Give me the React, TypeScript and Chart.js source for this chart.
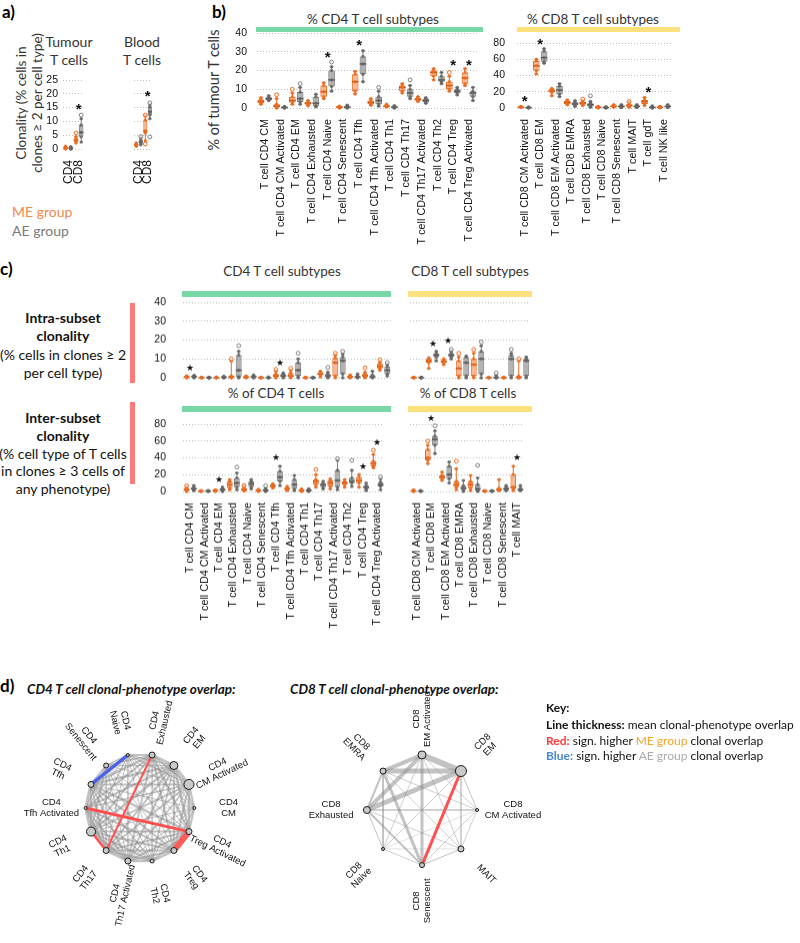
import React, { useEffect, useRef } from 'react';
import { Chart, registerables } from 'chart.js';

Chart.register(...registerables);

type Stat = [number, number, number, number, number]; // min, q1, median, q3, max

// ---------- Panel a ----------
const A_CATS = ['CD4', 'CD8'];
const A_TICKS = [0, 5, 10, 15, 20, 25];
const A_TUM_ME: Stat[] = [[0, 0.2, 0.4, 0.7, 1], [2.2, 2.8, 3.2, 3.8, 4.5]];
const A_TUM_AE: Stat[] = [[0, 0.1, 0.3, 0.5, 0.8], [2.5, 4.4, 6, 8.7, 11]];
const A_TUM_ME_OUT: number[][] = [[], [5.8]];
const A_TUM_AE_OUT: number[][] = [[], [12.3]];
const A_TUM_STARS: (number | null)[] = [null, 15.2];
const A_BLD_ME: Stat[] = [[1, 1.2, 1.5, 1.8, 2.2], [3, 5.8, 6.5, 10.5, 12]];
const A_BLD_AE: Stat[] = [[1.5, 2, 2.5, 3.2, 4], [11, 12.3, 13.5, 15.2, 16]];
const A_BLD_ME_OUT: number[][] = [[], [1.8, 12.3]];
const A_BLD_AE_OUT: number[][] = [[4.5], [4.4, 16.7]];
const A_BLD_STARS: (number | null)[] = [null, 20];

// ---------- Panel b ----------
const CD4_CATS = [
  'T cell CD4 CM', 'T cell CD4 CM Activated', 'T cell CD4 EM', 'T cell CD4 Exhausted',
  'T cell CD4 Naive', 'T cell CD4 Senescent', 'T cell CD4 Tfh', 'T cell CD4 Tfh Activated',
  'T cell CD4 Th1', 'T cell CD4 Th17', 'T cell CD4 Th17 Activated', 'T cell CD4 Th2',
  'T cell CD4 Treg', 'T cell CD4 Treg Activated',
];
const B8_CATS = [
  'T cell CD8 CM Activated', 'T cell CD8 EM', 'T cell CD8 EM Activated', 'T cell CD8 EMRA',
  'T cell CD8 Exhausted', 'T cell CD8 Naive', 'T cell CD8 Senescent', 'T cell MAIT',
  'T cell gdT', 'T cell NK like',
];
const C8_CATS = [
  'T cell CD8 CM Activated', 'T cell CD8 EM', 'T cell CD8 EM Activated', 'T cell CD8 EMRA',
  'T cell CD8 Exhausted', 'T cell CD8 Naive', 'T cell CD8 Senescent', 'T cell MAIT',
];
const B4_TICKS = [0, 10, 20, 30, 40];
const B8_TICKS = [0, 20, 40, 60, 80];

const B4_ME: Stat[] = [
  [2, 2.5, 3.5, 4.5, 5.5], [0, 0.3, 1, 2, 5], [2, 3, 4, 6, 8], [1.2, 1.8, 2.5, 3.4, 4],
  [5, 6, 8.7, 12, 13.5], [0, 0.2, 0.5, 0.8, 1], [7.5, 9, 14, 18, 19.5], [1.5, 2, 3, 4, 5],
  [0.5, 0.7, 1, 1.3, 2], [8, 9, 11, 12, 13], [3.5, 4, 4.5, 5.5, 6], [15, 17, 19, 20, 21],
  [9, 10, 12, 14, 17], [12, 13, 16, 19, 21],
];
const B4_AE: Stat[] = [
  [4, 4.3, 5, 5.7, 6.5], [0, 0.1, 0.3, 0.5, 0.8], [2, 3.2, 5, 8.5, 11], [0.7, 1, 2.5, 6, 7.4],
  [9, 11.5, 15, 20, 22], [0, 0.2, 0.5, 1, 1.5], [14, 18, 23.5, 27.5, 30.5], [1, 2, 4, 6, 9],
  [0, 0.2, 0.5, 0.8, 1.2], [5, 6, 8, 10, 12], [2.5, 3, 4, 5, 5.5], [13, 14, 15, 17, 19],
  [7, 8, 9, 10, 11], [4, 6, 8, 9, 11],
];
const B4_ME_OUT: number[][] = [[], [7], [10], [], [], [], [], [], [], [], [], [], [19], []];
const B4_AE_OUT: number[][] = [[], [], [13], [], [24.5], [], [], [11], [], [15], [], [], [], []];
const B4_STARS: (number | null)[] = [null, null, null, null, 28.3, null, 34.8, null, null, null, null, null, 24, 24];

const B8_ME: Stat[] = [
  [0.5, 0.8, 1, 1.5, 2], [42, 46, 52, 58, 60], [15, 19, 21, 23, 24], [4, 5, 7, 8.5, 10],
  [3, 4, 6, 7.5, 9], [0, 0.5, 1, 1.5, 2], [1, 1.5, 2, 3, 4], [1, 2, 3, 4.5, 7],
  [3, 5, 8, 10, 13], [0.3, 0.6, 1, 1.5, 2],
];
const B8_AE: Stat[] = [
  [0, 0.2, 0.5, 0.8, 1.2], [55, 57, 62, 70, 73], [14, 17, 22, 27, 30], [2, 3.5, 5, 7, 9],
  [1, 2, 4, 6, 8], [0, 0.2, 0.5, 1, 1.5], [0.5, 1, 2, 3, 4], [0.5, 1, 2, 3, 4],
  [0, 0.3, 0.8, 1.5, 2.5], [0.5, 1, 2, 2.8, 4],
];
const B8_ME_OUT: number[][] = [[], [], [], [], [11], [], [], [8], [], []];
const B8_AE_OUT: number[][] = [[], [], [], [], [15], [], [], [], [], []];
const B8_STARS: (number | null)[] = [11, 82, null, null, null, null, null, null, 22, null];

// ---------- Panel c : intra-subset ----------
const CI_TICKS = [0, 10, 20, 30, 40];
const C4I_ME: Stat[] = [
  [0, 0.2, 0.5, 0.8, 1], [0, 0, 0.1, 0.2, 0.3], [0, 0, 0.1, 0.2, 0.4], [0, 0.2, 0.5, 1, 9],
  [0, 0.2, 0.4, 0.7, 1], [0, 0, 0.1, 0.2, 0.3], [0, 0.5, 1, 2, 3.5], [0, 0.5, 1, 2.5, 4],
  [0, 0, 0.1, 0.2, 0.3], [0.5, 1.5, 2, 3, 3.5], [0, 1, 8, 10.5, 12], [0, 0.2, 0.5, 1, 1.5],
  [0, 0.5, 1, 2, 3], [4, 5, 6, 7.5, 8.5],
];
const C4I_AE: Stat[] = [
  [0, 0.3, 0.7, 1, 1.3], [0, 0, 0.1, 0.2, 0.3], [0, 0.1, 0.3, 0.5, 0.8], [0, 0.5, 4, 12, 14],
  [0, 0.2, 0.5, 1, 1.5], [0, 0, 0.1, 0.2, 0.4], [0, 0.5, 1, 2, 2.5], [0, 1, 4, 8, 10],
  [0, 0, 0.1, 0.2, 0.3], [0, 0.5, 1, 2, 3], [0, 2, 9, 11, 12.5], [0, 0.2, 0.5, 1, 2],
  [0, 0.2, 0.5, 1.5, 3.5], [1, 2, 4, 6, 7],
];
const C4I_ME_OUT: number[][] = [[], [], [], [10], [], [], [4.5], [5], [], [], [13], [], [5.3], [9.5]];
const C4I_AE_OUT: number[][] = [[], [], [], [17], [], [], [], [13], [], [5.5], [14], [], [], [8]];
const C4I_STARS: (number | null)[] = [5.3, null, null, null, null, null, 7.5, null, null, null, null, null, null, null];

const C8I_ME: Stat[] = [
  [0, 0, 0.1, 0.2, 0.3], [5, 8, 9, 10, 10.5], [7, 8, 8.5, 9.5, 10], [0, 1, 5, 9, 11],
  [0, 1, 7, 10, 13], [0, 0, 0.1, 0.2, 0.3], [0, 0, 0.1, 0.2, 0.3], [0, 0, 0.2, 1, 9],
];
const C8I_AE: Stat[] = [
  [0, 0, 0.1, 0.2, 0.3], [9, 11, 12, 13, 14], [10, 11, 12, 13, 14], [0, 1, 8, 11, 11.5],
  [0, 2, 10, 14, 17], [0, 0, 0.2, 0.5, 1.5], [0, 1, 10, 12, 13], [0, 1, 9, 10, 11],
];
const C8I_ME_OUT: number[][] = [[], [], [], [13], [15], [], [], [10]];
const C8I_AE_OUT: number[][] = [[], [], [15], [], [19], [2.5], [15], []];
const C8I_STARS: (number | null)[] = [null, 18, 19.5, null, null, null, null, null];

// ---------- Panel c : inter-subset ----------
const CX_TICKS = [0, 20, 40, 60, 80];
const C4X_ME: Stat[] = [
  [0, 1, 2, 4, 5], [0, 0.2, 0.5, 0.8, 1], [0, 0.5, 1, 1.5, 2], [2, 4, 8, 12, 14],
  [0.5, 1, 2, 4, 6], [0, 0.5, 1, 2, 2.5], [4, 5, 6.5, 8, 9], [1, 2, 3, 4.5, 6],
  [0, 0.5, 1, 2, 3], [5, 8, 12, 14, 20], [3, 6, 10, 13, 15], [5, 8, 10, 12, 14],
  [5, 10, 13, 17, 20], [28, 30, 33, 36, 44],
];
const C4X_AE: Stat[] = [
  [1, 2, 3, 5, 7], [0, 0.2, 0.5, 0.8, 1], [0, 1, 2, 3.5, 5], [2, 5, 10, 16, 22],
  [3, 5, 9, 12, 14], [0, 0.5, 1, 3, 4], [7, 12, 17, 24, 30], [1, 3, 8, 14, 19],
  [0, 0.5, 1, 2.5, 3], [3, 5, 8, 10, 12], [2, 5, 13, 25, 37], [6, 10, 12, 16, 25],
  [1, 3, 5, 7, 10], [2, 6, 8, 11, 15],
];
const C4X_ME_OUT: number[][] = [[6.7], [], [], [], [7], [], [], [], [], [26], [], [], [], [49]];
const C4X_AE_OUT: number[][] = [[], [], [], [29], [], [6.7], [], [], [], [], [39], [37], [], [17]];
const C4X_STARS: (number | null)[] = [null, null, 14, null, null, null, 40, null, null, null, null, null, 29.5, 58];

const C8X_ME: Stat[] = [
  [0, 0.3, 0.5, 1, 2], [33, 37, 40, 50, 55], [13, 15, 17, 19, 23], [2, 5, 8, 12, 27],
  [1, 4, 8, 12, 19], [0, 0.2, 0.5, 0.8, 1], [1, 1.5, 2, 4, 14], [1, 3, 5, 20, 30],
];
const C8X_AE: Stat[] = [
  [0, 0.2, 0.5, 0.8, 1], [45, 55, 62, 66, 72], [10, 15, 20, 30, 35], [0, 2, 4, 7, 13],
  [0, 1, 3, 8, 16], [0, 0.2, 0.5, 0.8, 1], [1, 1.5, 3, 5, 7], [1, 1.5, 2, 4, 7],
];
const C8X_ME_OUT: number[][] = [[], [60], [], [36], [], [], [], []];
const C8X_AE_OUT: number[][] = [[], [78], [], [], [31], [], [], []];
const C8X_STARS: (number | null)[] = [null, 87, null, null, null, null, null, 40];

// ---------- Panel d : networks ----------
const NET4_LABELS = [
  'CD4\nCM', 'CD4\nCM Activated', 'CD4\nEM', 'CD4\nExhausted', 'CD4\nNaive', 'CD4\nSenescent',
  'CD4\nTfh', 'CD4\nTfh Activated', 'CD4\nTh1', 'CD4\nTh17', 'CD4\nTh17 Activated', 'CD4\nTh2',
  'CD4\nTreg', 'CD4\nTreg Activated',
];
const NET4_NODE_R = [1.5, 5, 4, 3, 1.5, 2.5, 3, 1.5, 4.5, 3, 3, 2, 3, 3];
// upper-triangle overlap weights (row i -> nodes i+1..n-1)
const NET4_W: number[][] = [
  [2, 1.5, 1, 1, 0.5, 1, 0.5, 1, 1, 1, 0.5, 1.5, 2],
  [3, 2, 1.5, 1, 2, 1.5, 2, 2, 1.5, 1, 2, 2.5],
  [3, 1.5, 1.5, 2.5, 2, 2.5, 2, 2, 1.5, 2, 2.5],
  [2, 1.5, 2.5, 2, 2, 0, 2, 1.5, 2, 2.5],
  [1.5, 0, 1, 1.5, 1, 1.5, 1, 1, 1],
  [2, 1.5, 2, 1.5, 1, 1, 1, 1],
  [3, 2.5, 2, 2, 1.5, 2, 2.5],
  [3, 2.5, 2, 1.5, 2, 0],
  [0, 2.5, 2, 2, 2],
  [3, 2, 2, 2],
  [2.5, 2, 2],
  [2.5, 2],
  [0],
];
const NET4_SIG: [number, number, number, string][] = [
  [4, 6, 3.5, '#4a63e8'],
  [3, 9, 2, '#ff5050'],
  [7, 13, 3, '#ff5050'],
  [12, 13, 6, '#ff5a5a'],
  [8, 9, 2.5, '#ff5050'],
];

const NET8_LABELS = [
  'CD8\nCM Activated', 'CD8\nEM', 'CD8\nEM Activated', 'CD8\nEMRA', 'CD8\nExhausted',
  'CD8\nNaive', 'CD8\nSenescent', 'MAIT',
];
const NET8_NODE_R = [1.5, 5.5, 4, 3, 3.5, 1.5, 2.5, 3];
const NET8_W: number[][] = [
  [1, 0.8, 0.8, 1.5, 0.5, 0.8, 0.8],
  [6, 5, 5, 0.8, 0, 1.5],
  [4, 4, 0.8, 3, 0.8],
  [2, 0.8, 3, 0.8],
  [1, 2, 0.8],
  [0.8, 0.5],
  [1],
];
const NET8_SIG: [number, number, number, string][] = [[1, 6, 3, '#ff5050']];

// ---------- styles ----------
const ORANGE = '#ea6a1e';
const ORANGE_FILL = 'rgba(242,140,80,0.6)';
const ORANGE_DOT = 'rgba(234,106,30,0.85)';
const GRAY = '#808080';
const GRAY_FILL = 'rgba(128,128,128,0.6)';
const GRAY_DOT = 'rgba(100,100,100,0.85)';
const FONT_TXT = 'Lato, "Open Sans", sans-serif';
const FONT_AX = '"Liberation Sans", Arial, sans-serif';

Chart.defaults.font.family = FONT_AX;

interface BoxProps {
  area: [number, number, number, number];
  cats: string[];
  me: Stat[];
  ae: Stat[];
  meOut: number[][];
  aeOut: number[][];
  stars: (number | null)[];
  ticks: number[];
  showY: boolean;
  yw: number;
  yPad: number;
  showX: boolean;
  xh: number;
  xFont: number;
  pt: number;
  pb?: number;
  pr?: number;
  barPct: number;
  starChar: string;
  starFont: string;
  starDy: number;
}

function BoxChart(p: BoxProps) {
  const ref = useRef<HTMLCanvasElement>(null);
  const left = p.area[0] - p.yw;
  const top = p.area[2] - p.pt;
  const w = p.area[1] - left + (p.pr ?? 0);
  const h = p.area[3] - top + p.xh + (p.pb ?? 0);
  useEffect(() => {
    const cv = ref.current;
    if (!cv) return;
    const groups = [
      { stats: p.me, out: p.meOut, col: ORANGE, dot: ORANGE_DOT, med: '#c8520c' },
      { stats: p.ae, out: p.aeOut, col: GRAY, dot: GRAY_DOT, med: '#555' },
    ];
    const plugin = {
      id: 'boxExtras',
      afterDatasetsDraw(chart: any) {
        const ctx = chart.ctx as CanvasRenderingContext2D;
        const ys = chart.scales.y;
        const xs = chart.scales.x;
        const py = (v: number) => ys.getPixelForValue(v);
        groups.forEach((g, d) => {
          const meta = chart.getDatasetMeta(d);
          meta.data.forEach((bar: any, j: number) => {
            const s = g.stats[j];
            const x = bar.x;
            const bw = bar.width;
            ctx.save();
            ctx.strokeStyle = g.col;
            ctx.lineWidth = 1;
            ctx.beginPath();
            ctx.moveTo(x, py(s[0]));
            ctx.lineTo(x, py(s[1]));
            ctx.moveTo(x, py(s[3]));
            ctx.lineTo(x, py(s[4]));
            ctx.moveTo(x - bw * 0.3, py(s[0]));
            ctx.lineTo(x + bw * 0.3, py(s[0]));
            ctx.moveTo(x - bw * 0.3, py(s[4]));
            ctx.lineTo(x + bw * 0.3, py(s[4]));
            ctx.stroke();
            ctx.strokeStyle = g.med;
            ctx.lineWidth = 1.4;
            ctx.beginPath();
            ctx.moveTo(x - bw / 2, py(s[2]));
            ctx.lineTo(x + bw / 2, py(s[2]));
            ctx.stroke();
            ctx.fillStyle = g.dot;
            s.forEach((v) => {
              ctx.beginPath();
              ctx.arc(x, py(v), 1.7, 0, Math.PI * 2);
              ctx.fill();
            });
            ctx.lineWidth = 1;
            ctx.strokeStyle = g.col;
            g.out[j].forEach((v) => {
              ctx.beginPath();
              ctx.arc(x, py(v), 1.9, 0, Math.PI * 2);
              ctx.fillStyle = 'rgba(255,255,255,0.5)';
              ctx.fill();
              ctx.stroke();
            });
            ctx.restore();
          });
        });
        ctx.save();
        ctx.fillStyle = '#111';
        ctx.font = p.starFont;
        ctx.textAlign = 'center';
        ctx.textBaseline = 'middle';
        p.stars.forEach((v, j) => {
          if (v == null) return;
          ctx.fillText(p.starChar, xs.getPixelForValue(j), py(v) + p.starDy);
        });
        ctx.restore();
      },
    };
    const yMax = p.ticks[p.ticks.length - 1];
    const chart = new Chart(cv, {
      type: 'bar',
      data: {
        labels: p.cats,
        datasets: [
          {
            label: 'ME group',
            data: p.me.map((s) => [s[1], s[3]]),
            backgroundColor: ORANGE_FILL,
            borderColor: ORANGE,
            borderWidth: 1,
            borderSkipped: false,
            categoryPercentage: 1,
            barPercentage: p.barPct,
          },
          {
            label: 'AE group',
            data: p.ae.map((s) => [s[1], s[3]]),
            backgroundColor: GRAY_FILL,
            borderColor: GRAY,
            borderWidth: 1,
            borderSkipped: false,
            categoryPercentage: 1,
            barPercentage: p.barPct,
          },
        ],
      } as any,
      options: {
        responsive: false,
        animation: false,
        events: [],
        layout: { padding: { top: p.pt, right: p.pr ?? 0, bottom: p.pb ?? 0, left: 0 } },
        plugins: { legend: { display: false }, tooltip: { enabled: false } },
        scales: {
          x: {
            type: 'category',
            grid: { display: false },
            border: { display: false },
            ticks: {
              display: p.showX,
              autoSkip: false,
              minRotation: 90,
              maxRotation: 90,
              padding: 3,
              color: '#111',
              font: { size: p.xFont, family: FONT_AX },
            },
            afterFit: (s: any) => {
              s.height = p.xh;
            },
          },
          y: {
            min: 0,
            max: yMax,
            grid: { color: '#bdbdbd', lineWidth: 1, drawTicks: false },
            border: { display: false, dash: [1, 2] },
            ticks: {
              display: p.showY,
              autoSkip: false,
              padding: p.yPad,
              color: '#111',
              font: { size: 10.5, family: FONT_AX },
            },
            afterBuildTicks: (s: any) => {
              s.ticks = p.ticks.map((v) => ({ value: v }));
            },
            afterFit: (s: any) => {
              s.width = p.yw;
            },
          },
        },
      } as any,
      plugins: [plugin],
    });
    return () => chart.destroy();
  }, []);
  return (
    <canvas
      ref={ref}
      width={w}
      height={h}
      style={{ position: 'absolute', left, top, width: w, height: h }}
    />
  );
}

interface NetProps {
  cx: number;
  cy: number;
  size: number;
  unit: number;
  labels: string[];
  nodeR: number[];
  weights: number[][];
  sig: [number, number, number, string][];
  labelR: number;
}

function Network(p: NetProps) {
  const ref = useRef<HTMLCanvasElement>(null);
  useEffect(() => {
    const cv = ref.current;
    if (!cv) return;
    const n = p.labels.length;
    const pos = p.labels.map((_, i) => ({
      x: Math.cos((i * 2 * Math.PI) / n),
      y: Math.sin((i * 2 * Math.PI) / n),
    }));
    const ds: any[] = [];
    ds.push({
      data: pos,
      pointRadius: p.nodeR,
      pointBackgroundColor: '#cacaca',
      pointBorderColor: '#1a1a1a',
      pointBorderWidth: 1,
      showLine: false,
      order: 0,
    });
    p.sig.forEach(([i, j, wd, c]) =>
      ds.push({
        data: [pos[i], pos[j]],
        showLine: true,
        borderColor: c,
        borderWidth: wd,
        pointRadius: 0,
        order: 1,
      }),
    );
    p.weights.forEach((row, i) =>
      row.forEach((wd, k) => {
        if (wd <= 0) return;
        ds.push({
          data: [pos[i], pos[i + 1 + k]],
          showLine: true,
          borderColor: 'rgba(145,145,145,0.55)',
          borderWidth: wd,
          pointRadius: 0,
          order: 2,
        });
      }),
    );
    const R = p.size / 2 / p.unit;
    const labelPlugin = {
      id: 'netLabels',
      afterDatasetsDraw(chart: any) {
        const ctx = chart.ctx as CanvasRenderingContext2D;
        const xs = chart.scales.x;
        const ys = chart.scales.y;
        ctx.save();
        ctx.fillStyle = '#111';
        ctx.font = `9.5px ${FONT_AX}`;
        ctx.textAlign = 'center';
        ctx.textBaseline = 'middle';
        p.labels.forEach((lab, i) => {
          const a = (i * 2 * Math.PI) / n;
          const px = xs.getPixelForValue(p.labelR * Math.cos(a));
          const pyy = ys.getPixelForValue(p.labelR * Math.sin(a));
          const rot = Math.cos(a) >= 0 ? -a : Math.PI - a;
          const lines = lab.split('\n');
          ctx.save();
          ctx.translate(px, pyy);
          ctx.rotate(rot);
          lines.forEach((ln, k) => {
            ctx.fillText(ln, 0, (k - (lines.length - 1) / 2) * 10.5);
          });
          ctx.restore();
        });
        ctx.restore();
      },
    };
    const chart = new Chart(cv, {
      type: 'scatter',
      data: { datasets: ds },
      options: {
        responsive: false,
        animation: false,
        events: [],
        layout: { padding: 0 },
        plugins: { legend: { display: false }, tooltip: { enabled: false } },
        scales: {
          x: { type: 'linear', min: -R, max: R, display: false },
          y: { type: 'linear', min: -R, max: R, display: false },
        },
      } as any,
      plugins: [labelPlugin],
    });
    return () => chart.destroy();
  }, []);
  const left = p.cx - p.size / 2;
  const top = p.cy - p.size / 2;
  return (
    <canvas
      ref={ref}
      width={p.size}
      height={p.size}
      style={{ position: 'absolute', left, top, width: p.size, height: p.size }}
    />
  );
}

interface TxtProps {
  x: number;
  y: number;
  children: React.ReactNode;
  size?: number;
  weight?: number;
  color?: string;
  rot?: number;
  italic?: boolean;
  align?: 'center' | 'left';
  lh?: number;
}

function Txt({ x, y, children, size = 14, weight = 400, color = '#333', rot = 0, italic = false, align = 'center', lh }: TxtProps) {
  const tf = align === 'center' ? `translate(-50%,-50%) rotate(${rot}deg)` : `translate(0,-50%) rotate(${rot}deg)`;
  return (
    <div
      style={{
        position: 'absolute',
        left: x,
        top: y,
        transform: tf,
        fontSize: size,
        fontWeight: weight,
        color,
        fontFamily: FONT_TXT,
        fontStyle: italic ? 'italic' : 'normal',
        whiteSpace: 'pre',
        lineHeight: lh ? `${lh}px` : 'normal',
        textAlign: align,
      }}
    >
      {children}
    </div>
  );
}

function Bar({ x, y, w, h, c }: { x: number; y: number; w: number; h: number; c: string }) {
  return <div style={{ position: 'absolute', left: x, top: y, width: w, height: h, background: c }} />;
}

const GREEN = '#79d6a5';
const YELLOW = '#fde07c';
const PINK = '#ff7a7a';

export default function App() {
  const starB = `bold 15px ${FONT_AX}`;
  const starC = `9px ${FONT_AX}`;
  return (
    <div style={{ position: 'absolute', left: 0, top: 0, width: 800, height: 943, background: '#fff', overflow: 'hidden' }}>
      {/* ---------- a ---------- */}
      <Txt x={2} y={11} size={17} weight={700} color="#000" align="left">a)</Txt>
      <Txt x={29} y={103} size={13.5} rot={-90} lh={16}>{'Clonality (% cells in\nclones ≥ 2 per cell type)'}</Txt>
      <Txt x={69} y={51} size={14} lh={18}>{'Tumour\nT cells'}</Txt>
      <Txt x={142} y={51} size={14} lh={18}>{'Blood\nT cells'}</Txt>
      <Txt x={12} y={211} size={14} color="#f08a4b" align="left">ME group</Txt>
      <Txt x={12} y={230} size={14} color="#7a7a7a" align="left">AE group</Txt>
      <BoxChart area={[63, 90, 80, 149]} cats={A_CATS} me={A_TUM_ME} ae={A_TUM_AE} meOut={A_TUM_ME_OUT} aeOut={A_TUM_AE_OUT}
        stars={A_TUM_STARS} ticks={A_TICKS} showY yw={30} yPad={5} showX xh={40} xFont={12}
        pt={15} pr={8} barPct={0.9} starChar="*" starFont={starB} starDy={3} />
      <BoxChart area={[134, 162, 80, 149]} cats={A_CATS} me={A_BLD_ME} ae={A_BLD_AE} meOut={A_BLD_ME_OUT} aeOut={A_BLD_AE_OUT}
        stars={A_BLD_STARS} ticks={A_TICKS} showY={false} yw={4} yPad={5} showX xh={40} xFont={12}
        pt={15} pr={4} barPct={0.9} starChar="*" starFont={starB} starDy={3} />

      {/* ---------- b ---------- */}
      <Txt x={212} y={11} size={17} weight={700} color="#000" align="left">b)</Txt>
      <Txt x={373} y={19} size={13.5}>% CD4 T cell subtypes</Txt>
      <Txt x={593} y={19} size={13.5}>% CD8 T cell subtypes</Txt>
      <Bar x={256} y={27} w={227} h={5} c={GREEN} />
      <Bar x={517} y={27} w={163} h={5} c={YELLOW} />
      <Txt x={213} y={90} size={14.5} rot={-90}>% of tumour T cells</Txt>
      <BoxChart area={[257, 483, 33, 108]} cats={CD4_CATS} me={B4_ME} ae={B4_AE} meOut={B4_ME_OUT} aeOut={B4_AE_OUT}
        stars={B4_STARS} ticks={B4_TICKS} showY yw={36} yPad={10} showX xh={145} xFont={10.8}
        pt={20} pr={2} barPct={0.85} starChar="*" starFont={starB} starDy={3} />
      <BoxChart area={[517, 677, 43, 108]} cats={B8_CATS} me={B8_ME} ae={B8_AE} meOut={B8_ME_OUT} aeOut={B8_AE_OUT}
        stars={B8_STARS} ticks={B8_TICKS} showY yw={32} yPad={12} showX xh={145} xFont={10.8}
        pt={22} pr={3} barPct={0.85} starChar="*" starFont={starB} starDy={3} />

      {/* ---------- c ---------- */}
      <Txt x={0} y={268} size={17} weight={700} color="#000" align="left">c)</Txt>
      <Txt x={282} y={271} size={13.5}>CD4 T cell subtypes</Txt>
      <Txt x={470} y={271} size={13.5}>CD8 T cell subtypes</Txt>
      <Bar x={182} y={291} w={209} h={6} c={GREEN} />
      <Bar x={408} y={291} w={124} h={6} c={YELLOW} />
      <Txt x={276} y={393} size={13.5}>% of CD4 T cells</Txt>
      <Txt x={468} y={393} size={13.5}>% of CD8 T cells</Txt>
      <Bar x={182} y={406} w={209} h={6} c={GREEN} />
      <Bar x={408} y={406} w={124} h={6} c={YELLOW} />
      <Txt x={63} y={317} size={14} weight={700} color="#111">Intra-subset</Txt>
      <Txt x={63} y={335} size={14} weight={700} color="#111">clonality</Txt>
      <Txt x={63} y={354} size={14} color="#111">(% cells in clones ≥ 2</Txt>
      <Txt x={63} y={372} size={14} color="#111">per cell type)</Txt>
      <Txt x={63} y={417} size={14} weight={700} color="#111">Inter-subset</Txt>
      <Txt x={63} y={435} size={14} weight={700} color="#111">clonality</Txt>
      <Txt x={63} y={453} size={14} color="#111">(% cell type of T cells</Txt>
      <Txt x={63} y={470} size={14} color="#111">in clones ≥ 3 cells of</Txt>
      <Txt x={63} y={488} size={14} color="#111">any phenotype)</Txt>
      <Bar x={130} y={303} w={5} h={80} c={PINK} />
      <Bar x={130} y={402} w={5} h={82} c={PINK} />
      <BoxChart area={[182.5, 391, 302, 377.5]} cats={CD4_CATS} me={C4I_ME} ae={C4I_AE} meOut={C4I_ME_OUT} aeOut={C4I_AE_OUT}
        stars={C4I_STARS} ticks={CI_TICKS} showY yw={30} yPad={17} showX={false} xh={0} xFont={10.8}
        pt={28} pb={28} pr={2} barPct={0.8} starChar="★" starFont={starC} starDy={0} />
      <BoxChart area={[409.5, 529.5, 302, 377.5]} cats={C8_CATS} me={C8I_ME} ae={C8I_AE} meOut={C8I_ME_OUT} aeOut={C8I_AE_OUT}
        stars={C8I_STARS} ticks={CI_TICKS} showY={false} yw={2} yPad={5} showX={false} xh={0} xFont={10.8}
        pt={28} pb={28} pr={3} barPct={0.8} starChar="★" starFont={starC} starDy={0} />
      <BoxChart area={[182.5, 391, 424, 491.5]} cats={CD4_CATS} me={C4X_ME} ae={C4X_AE} meOut={C4X_ME_OUT} aeOut={C4X_AE_OUT}
        stars={C4X_STARS} ticks={CX_TICKS} showY yw={30} yPad={17} showX xh={140} xFont={10.8}
        pt={28} pr={2} barPct={0.8} starChar="★" starFont={starC} starDy={0} />
      <BoxChart area={[409.5, 529.5, 424, 491.5]} cats={C8_CATS} me={C8X_ME} ae={C8X_AE} meOut={C8X_ME_OUT} aeOut={C8X_AE_OUT}
        stars={C8X_STARS} ticks={CX_TICKS} showY={false} yw={2} yPad={5} showX xh={140} xFont={10.8}
        pt={28} pr={3} barPct={0.8} starChar="★" starFont={starC} starDy={0} />

      {/* ---------- d ---------- */}
      <Txt x={0} y={685} size={17} weight={700} color="#000" align="left">d)</Txt>
      <Txt x={27} y={689} size={13.5} weight={700} italic color="#111" align="left">CD4 T cell clonal-phenotype overlap:</Txt>
      <Txt x={290} y={689} size={13.5} weight={700} italic color="#111" align="left">CD8 T cell clonal-phenotype overlap:</Txt>
      <Network cx={140} cy={808} size={260} unit={57} labels={NET4_LABELS} nodeR={NET4_NODE_R} weights={NET4_W} sig={NET4_SIG} labelR={1.63} />
      <Network cx={422} cy={810} size={260} unit={58} labels={NET8_LABELS} nodeR={NET8_NODE_R} weights={NET8_W} sig={NET8_SIG} labelR={1.65} />
      <Txt x={546} y={707} size={12} weight={700} color="#111" align="left">Key:</Txt>
      <Txt x={546} y={724} size={12} color="#111" align="left"><b>Line thickness:</b> mean clonal-phenotype overlap</Txt>
      <Txt x={546} y={740} size={12} color="#111" align="left"><b style={{ color: '#ff3b3b' }}>Red:</b> sign. higher <span style={{ color: '#f2a52b' }}>ME group</span> clonal overlap</Txt>
      <Txt x={546} y={755} size={12} color="#111" align="left"><b style={{ color: '#4a86d0' }}>Blue:</b> sign. higher <span style={{ color: '#aaaaaa' }}>AE group</span> clonal overlap</Txt>
    </div>
  );
}
